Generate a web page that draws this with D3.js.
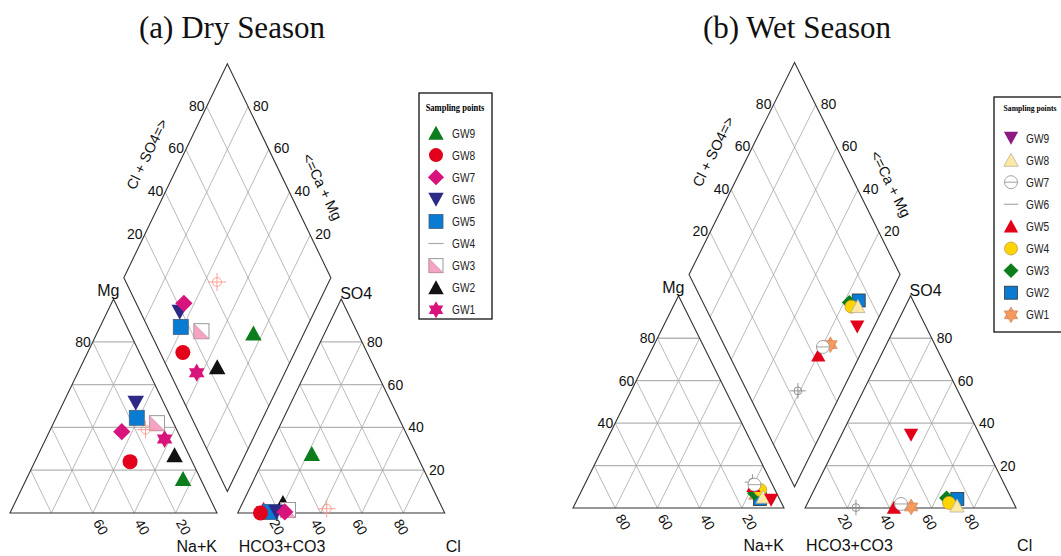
<!DOCTYPE html>
<html>
<head>
<meta charset="utf-8">
<script src="https://cdn.jsdelivr.net/npm/d3@7"></script>
<style>
  body { margin: 0; background: #fff; }
  svg { display: block; font-family: Arial, "Liberation Sans", sans-serif; }
  .grid { fill: none; stroke: #9c9c9c; stroke-width: 0.7; }
  .hgrid { fill: none; stroke: #b4b4b4; stroke-width: 1.3; }
  .frame { fill: none; stroke: #333; stroke-width: 1.1; }
  .tick { font-size: 14px; fill: #111; }
  .axisTitle { font-size: 16px; fill: #111; }
</style>
</head>
<body>
<div id="chart"></div>
<script>
// Piper diagrams - groundwater samples, dry and wet season

// Sample names (drawn GW1 -> GW9, legend lists GW9 first)
var samples = ["GW1", "GW2", "GW3", "GW4", "GW5", "GW6", "GW7", "GW8", "GW9"];
var legendOrder = ["GW9", "GW8", "GW7", "GW6", "GW5", "GW4", "GW3", "GW2", "GW1"];

// Dry season, % meq/l (cations)
var dryCa  = [8.0, 7.0, 8.0, 15.0, 16.5, 13.5, 27.0, 30.0, 8.4];
var dryMg  = [34.6, 27.0, 42.0, 39.0, 44.5, 51.5, 38.0, 24.0, 16.0];
var dryNaK = [57.4, 66.0, 50.0, 46.0, 39.0, 35.0, 35.0, 46.0, 75.6];
// Dry season, % meq/l (anions)
var dryHCO3 = [87.0, 75.8, 75.0, 56.0, 84.0, 81.0, 77.0, 89.0, 50.4];
var drySO4  = [1.0, 4.7, 1.4, 2.0, 0.5, 0.5, 0.5, 0.0, 27.6];
var dryCl   = [12.0, 19.5, 23.6, 42.0, 15.5, 18.5, 22.5, 11.0, 22.0];

// Wet season, % meq/l (cations)
var wetCa  = [10.5, 9.3, 10.5, 7.0, 9.3, 8.8, 8.5, 7.3, 4.2];
var wetMg  = [6.0, 4.2, 7.0, 8.5, 10.4, 12.2, 11.0, 5.2, 3.8];
var wetNaK = [83.5, 86.5, 82.5, 84.5, 80.3, 79.0, 80.5, 87.5, 92.0];
// Wet season, % meq/l (anions)
var wetHCO3 = [49.5, 25.7, 30.6, 30.6, 57.8, 75.8, 53.6, 27.5, 32.6];
var wetSO4  = [0.5, 4.3, 4.7, 2.4, 0.2, 0.2, 1.9, 1.0, 34.4];
var wetCl   = [50.0, 70.0, 64.7, 67.0, 42.0, 24.0, 44.5, 71.5, 33.0];

// Grid / tick values
var tickValues = [20, 40, 60, 80];

// Marker styles
var dryStyles = {
  GW9: {shape: "triangle", fill: "#0b7d1c"},
  GW8: {shape: "circle", fill: "#e3001b"},
  GW7: {shape: "diamond", fill: "#d8147c"},
  GW6: {shape: "triangleDown", fill: "#2c2a86"},
  GW5: {shape: "square", fill: "#0a7bd2", stroke: "#40607f"},
  GW4: {shape: "crosshair", fill: "none", stroke: "#f79a8c", legend: "line"},
  GW3: {shape: "halfsquare", fill: "#f4a3c2", stroke: "#999"},
  GW2: {shape: "triangle", fill: "#111"},
  GW1: {shape: "star", fill: "#d8147c"}
};
var wetStyles = {
  GW9: {shape: "triangleDown", fill: "#e3001b", legendFill: "#8d1a80"},
  GW8: {shape: "triangle", fill: "#fde9a4", stroke: "#b8b09a"},
  GW7: {shape: "circleLine", fill: "#fff", stroke: "#999"},
  GW6: {shape: "crosshair", fill: "none", stroke: "#888", legend: "line"},
  GW5: {shape: "triangle", fill: "#e3001b"},
  GW4: {shape: "circle", fill: "#ffd400", stroke: "#b8a040"},
  GW3: {shape: "diamond", fill: "#0b7d1c"},
  GW2: {shape: "square", fill: "#0a7bd2", stroke: "#333"},
  GW1: {shape: "star", fill: "#f79a5c", stroke: "#c98a60"}
};

// Piper geometry in unit coordinates (triangle side = 100)
var GAP = 10;
var H = 100 * Math.sqrt(3) / 2;
var TOP = (200 + GAP) * H / 100;

function tri(ox, right, top) { return [ox + right + top / 2, top * H / 100]; }
function cation(nak, mg) { return tri(0, nak, mg); }
function anion(cl, so4) { return tri(100 + GAP, cl, so4); }
function diamond(nak, hco3) {
  var a = nak, b = 100 + GAP + (100 - hco3);
  return [(a + b) / 2, (b - a) * H / 100];
}

// Create SVG
var svg = d3.select("#chart").append("svg")
  .attr("width", 1061)
  .attr("height", 556);

// Draw one marker inside group g
function drawMarker(g, st, r, inLegend) {
  var shape = (inLegend && st.legend) ? st.legend : st.shape;
  var fill = (inLegend && st.legendFill) ? st.legendFill : st.fill;
  var stroke = st.stroke || "none";
  var k = r * 1.15;
  switch (shape) {
    case "circle":
      g.append("circle").attr("r", r).attr("fill", fill).attr("stroke", stroke).attr("stroke-width", 0.8);
      break;
    case "square":
      g.append("rect").attr("x", -r).attr("y", -r).attr("width", 2 * r).attr("height", 2 * r)
        .attr("fill", fill).attr("stroke", stroke).attr("stroke-width", 0.8);
      break;
    case "diamond":
      g.append("path").attr("d", `M0,${-k}L${k},0L0,${k}L${-k},0Z`).attr("fill", fill).attr("stroke", stroke);
      break;
    case "triangle":
      g.append("path").attr("d", `M0,${-r * 1.05}L${r * 1.1},${r * 0.95}L${-r * 1.1},${r * 0.95}Z`)
        .attr("fill", fill).attr("stroke", stroke).attr("stroke-width", 0.8);
      break;
    case "triangleDown":
      g.append("path").attr("d", `M0,${r * 1.05}L${r * 1.1},${-r * 0.95}L${-r * 1.1},${-r * 0.95}Z`)
        .attr("fill", fill).attr("stroke", stroke);
      break;
    case "star":
      var up = [-90, 30, 150].map(a => [k * 1.05 * Math.cos(a * Math.PI / 180), k * 1.05 * Math.sin(a * Math.PI / 180)]);
      var dn = [90, 210, 330].map(a => [k * 1.05 * Math.cos(a * Math.PI / 180), k * 1.05 * Math.sin(a * Math.PI / 180)]);
      g.append("path").attr("d", "M" + up.join("L") + "Z").attr("fill", fill).attr("stroke", stroke).attr("stroke-width", 0.7);
      g.append("path").attr("d", "M" + dn.join("L") + "Z").attr("fill", fill).attr("stroke", stroke).attr("stroke-width", 0.7);
      break;
    case "halfsquare":
      g.append("rect").attr("x", -r).attr("y", -r).attr("width", 2 * r).attr("height", 2 * r)
        .attr("fill", "#fff").attr("stroke", stroke).attr("stroke-width", 1);
      g.append("path").attr("d", `M${-r},${-r}L${r},${r}L${-r},${r}Z`).attr("fill", fill).attr("stroke", "#c58aa0").attr("stroke-width", 0.6);
      break;
    case "crosshair":
      g.append("circle").attr("r", r * 0.6).attr("fill", "none").attr("stroke", stroke).attr("stroke-width", 0.9);
      g.append("path").attr("d", `M${-r * 1.2},0H${r * 1.2}M0,${-r * 1.2}V${r * 1.2}`).attr("stroke", stroke).attr("stroke-width", 0.9);
      break;
    case "circleLine":
      g.append("circle").attr("r", r).attr("fill", fill).attr("stroke", stroke).attr("stroke-width", 0.9);
      g.append("path").attr("d", `M${-r},0H${r}`).attr("stroke", stroke).attr("stroke-width", 0.9);
      break;
    case "line":
      g.append("path").attr("d", `M${-r * 1.1},0H${r * 1.1}`).attr("stroke", "#aaa").attr("stroke-width", 1.2);
      break;
  }
}

// Draw one Piper panel
function drawPanel(p) {
  var g = svg.append("g");
  var x = d3.scaleLinear().domain([0, 200 + GAP]).range(p.xRange);
  var y = d3.scaleLinear().domain([0, TOP]).range(p.yRange);
  var px = d => [x(d[0]), y(d[1])];
  var line = d3.line().x(d => x(d[0])).y(d => y(d[1]));

  // Title
  g.append("text")
    .attr("x", p.titleX).attr("y", 38)
    .attr("text-anchor", "middle")
    .style("font-family", "'Liberation Serif', 'Times New Roman', serif")
    .style("font-size", "31px")
    .style("fill", "#111")
    .text(p.title);

  // Grid lines
  var grid = g.append("g");
  tickValues.forEach(function(v) {
    grid.append("path").attr("class", "hgrid").attr("d", line([cation(0, v), cation(100 - v, v)]));
    grid.append("path").attr("class", "grid").attr("d", line([cation(v, 0), cation(v, 100 - v)]));
    grid.append("path").attr("class", "grid").attr("d", line([cation(100 - v, 0), cation(0, 100 - v)]));
    grid.append("path").attr("class", "hgrid").attr("d", line([anion(0, v), anion(100 - v, v)]));
    grid.append("path").attr("class", "grid").attr("d", line([anion(v, 0), anion(v, 100 - v)]));
    grid.append("path").attr("class", "grid").attr("d", line([anion(100 - v, 0), anion(0, 100 - v)]));
    grid.append("path").attr("class", "grid").attr("d", line([diamond(v, 0), diamond(v, 100)]));
    grid.append("path").attr("class", "grid").attr("d", line([diamond(0, v), diamond(100, v)]));
  });

  // Outlines
  g.append("path").attr("class", "frame").attr("d", line([cation(0, 0), cation(100, 0), cation(0, 100)]) + "Z");
  g.append("path").attr("class", "frame").attr("d", line([anion(0, 0), anion(100, 0), anion(0, 100)]) + "Z");
  g.append("path").attr("class", "frame").attr("d", line([diamond(100, 100), diamond(100, 0), diamond(0, 0), diamond(0, 100)]) + "Z");

  // Tick labels
  var t = g.append("g");
  p.mgLabels.forEach(function(v) {
    var q = px(cation(0, v));
    t.append("text").attr("class", "tick").attr("x", q[0] - 2).attr("y", q[1] + 5).attr("text-anchor", "end").text(v);
  });
  p.caLabels.forEach(function(v) {
    var q = px(cation(100 - v, 0));
    t.append("text").attr("class", "tick").attr("text-anchor", "middle")
      .attr("transform", `translate(${q[0] + 8},${q[1] + 14}) rotate(60)`).attr("dy", "0.35em").text(v);
  });
  tickValues.forEach(function(v) {
    var q = px(anion(v, 0));
    t.append("text").attr("class", "tick").attr("text-anchor", "middle")
      .attr("transform", `translate(${q[0] - 2},${q[1] + 14}) rotate(60)`).attr("dy", "0.35em").text(v);
    q = px(anion(100 - v, v));
    t.append("text").attr("class", "tick").attr("x", q[0] + 5).attr("y", q[1] + 5).text(v);
    q = px(diamond(0, 100 - v));
    t.append("text").attr("class", "tick").attr("x", q[0] - 2).attr("y", q[1] + 4).attr("text-anchor", "end").text(v);
    q = px(diamond(100 - v, 0));
    t.append("text").attr("class", "tick").attr("x", q[0] + 5).attr("y", q[1] + 4).text(v);
  });

  // Corner titles
  var apexC = px(cation(0, 100)), apexA = px(anion(0, 100));
  var c0 = px(cation(100, 0)), a0 = px(anion(0, 0)), a1 = px(anion(100, 0));
  g.append("text").attr("class", "axisTitle").attr("x", apexC[0] + 6).attr("y", apexC[1] - 3).attr("text-anchor", "end").text("Mg");
  g.append("text").attr("class", "axisTitle").attr("x", apexA[0] - 1).attr("y", apexA[1]).text("SO4");
  g.append("text").attr("class", "axisTitle").attr("x", c0[0]).attr("y", p.bottomY).attr("text-anchor", "end").text("Na+K");
  g.append("text").attr("class", "axisTitle").attr("x", a0[0] + 1).attr("y", p.bottomY).text("HCO3+CO3");
  g.append("text").attr("class", "axisTitle").attr("x", a1[0] + 1).attr("y", p.bottomY).text("Cl");

  // Diamond edge titles
  function edgeTitle(p0, p1, frac, off, side, txt) {
    var a = px(p0), b = px(p1);
    var dx = b[0] - a[0], dy = b[1] - a[1], len = Math.hypot(dx, dy);
    var ux = dx / len, uy = dy / len;
    var nx = side < 0 ? uy : -uy, ny = side < 0 ? -ux : ux;
    var cx = a[0] + dx * frac + nx * off, cy = a[1] + dy * frac + ny * off;
    var ang = side < 0 ? Math.atan2(uy, ux) : Math.atan2(-uy, -ux);
    g.append("text").style("font-size", "14.5px").style("fill", "#111")
      .attr("text-anchor", "middle").attr("dy", "0.35em")
      .attr("transform", `translate(${cx},${cy}) rotate(${ang * 180 / Math.PI})`)
      .text(txt);
  }
  edgeTitle(diamond(0, 100), diamond(0, 0), 0.51, 33, -1, "Cl + SO4=>");
  edgeTitle(diamond(100, 0), diamond(0, 0), 0.36, 32, 1, "<=Ca + Mg");

  // Sample points
  var pts = g.append("g");
  samples.forEach(function(s, i) {
    var st = p.styles[s];
    var places = [
      cation(p.nak[i], p.mg[i]),
      anion(p.cl[i], p.so4[i]),
      diamond(p.nak[i], p.hco3[i])
    ];
    places.forEach(function(q) {
      var m = pts.append("g").attr("transform", `translate(${x(q[0])},${y(q[1])})`);
      drawMarker(m, st, p.r, false);
    });
  });

  // Legend
  var L = p.legend;
  var lg = g.append("g");
  lg.append("rect").attr("x", L.x).attr("y", L.y).attr("width", L.w).attr("height", L.h)
    .attr("fill", "#fff").attr("stroke", "#111").attr("stroke-width", 1.3);
  lg.append("text").attr("transform", `translate(${L.titleX},${L.titleY}) scale(0.85,1)`).attr("text-anchor", "middle")
    .style("font-family", "'Liberation Serif', 'Times New Roman', serif")
    .style("font-weight", "bold").style("font-size", L.titleSize + "px")
    .text("Sampling points");
  legendOrder.forEach(function(s, k) {
    var yy = L.y0 + k * L.step;
    var m = lg.append("g").attr("transform", `translate(${L.sx},${yy})`);
    drawMarker(m, p.styles[s], L.r, true);
    lg.append("text").attr("transform", `translate(${L.tx},${yy + 4.5}) scale(0.78,1)`)
      .style("font-size", "13px").style("fill", "#222").text(s);
  });
}

drawPanel({
  title: "(a) Dry Season", titleX: 232,
  xRange: [10, 444.7], yRange: [513, 63.8], bottomY: 552,
  mg: dryMg, nak: dryNaK, ca: dryCa, hco3: dryHCO3, so4: drySO4, cl: dryCl,
  styles: dryStyles, r: 7.5,
  mgLabels: [80], caLabels: [60, 40, 20],
  legend: {x: 419, y: 93, w: 73, h: 226, titleX: 455, titleY: 111, titleSize: 10,
           y0: 133, step: 22.1, sx: 436, tx: 452, r: 7}
});

drawPanel({
  title: "(b) Wet Season", titleX: 797,
  xRange: [573, 1016.1], yRange: [508, 62.4], bottomY: 551,
  mg: wetMg, nak: wetNaK, ca: wetCa, hco3: wetHCO3, so4: wetSO4, cl: wetCl,
  styles: wetStyles, r: 6.5,
  mgLabels: [80, 60, 40], caLabels: [80, 60, 40, 20],
  legend: {x: 994, y: 97, w: 80, h: 235, titleX: 1030, titleY: 111, titleSize: 9,
           y0: 138, step: 22.1, sx: 1011, tx: 1026, r: 6.5}
});
</script>
</body>
</html>
